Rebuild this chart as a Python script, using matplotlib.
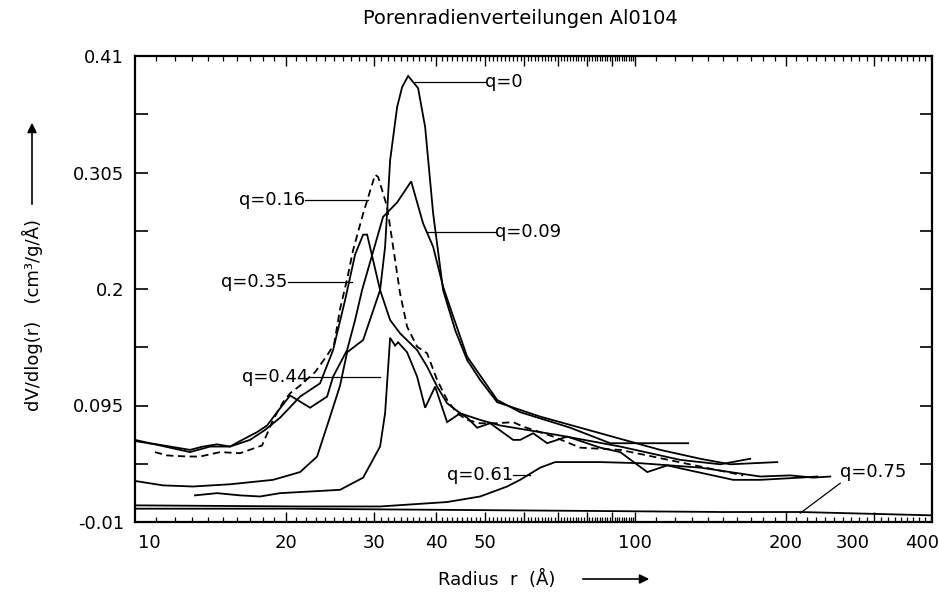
import numpy as np
import matplotlib
matplotlib.use('Agg')
import matplotlib.pyplot as plt
import matplotlib.transforms as mtransforms
from matplotlib.ticker import FixedLocator, NullFormatter, FixedFormatter

plt.rcParams['font.family'] = ['DejaVu Sans']

# pore radius r (Angstrom) and dV/dlog(r) for each q
r_q0 = [10.0, 11.38, 13.06, 15.49, 18.88, 21.38, 23.12, 24.55, 25.70, 26.55, 28.58, 30.90, 31.62,
        32.36, 33.42, 34.20, 35.16, 36.81, 38.02, 39.45, 41.30, 43.65, 46.13, 48.98, 52.97, 64.57,
        85.11, 112.2, 134.9, 154.9, 192.3]
v_q0 = [0.027, 0.023, 0.022, 0.024, 0.028, 0.035, 0.049, 0.085, 0.113, 0.143, 0.154, 0.199, 0.238,
        0.316, 0.364, 0.382, 0.392, 0.381, 0.346, 0.268, 0.199, 0.163, 0.136, 0.118, 0.098, 0.085,
        0.070, 0.055, 0.047, 0.042, 0.044]

r_q009 = [10.0, 10.72, 11.75, 12.88, 13.68, 14.59, 15.49, 16.22, 17.54, 18.37, 19.23, 20.42, 22.39,
          24.21, 24.89, 26.55, 27.54, 28.44, 31.33, 33.42, 35.65, 37.67, 39.45, 41.30, 43.05, 46.13,
          52.97, 58.88, 74.13, 89.13, 127.6]
v_q009 = [0.064, 0.061, 0.058, 0.055, 0.058, 0.060, 0.058, 0.063, 0.071, 0.077, 0.089, 0.104, 0.093,
          0.103, 0.121, 0.145, 0.172, 0.199, 0.265, 0.278, 0.297, 0.259, 0.238, 0.202, 0.178, 0.139,
          0.100, 0.089, 0.075, 0.061, 0.061]

r_q016 = [10.96, 11.59, 12.76, 13.49, 14.79, 16.22, 17.95, 18.88, 19.77, 20.42, 21.38, 22.9, 24.2,
          25.0, 25.7, 26.55, 27.29, 28.58, 30.20, 30.62, 31.92, 32.81, 33.88, 34.99, 36.64, 38.37,
          40.18, 42.07, 44.06, 46.13, 48.98, 52.97, 57.02, 59.70, 68.55, 77.62, 93.33, 105.7, 134.9,
          164.4]
v_q016 = [0.053, 0.050, 0.049, 0.049, 0.053, 0.052, 0.059, 0.082, 0.098, 0.106, 0.113, 0.125, 0.140,
          0.150, 0.182, 0.209, 0.235, 0.268, 0.303, 0.301, 0.274, 0.238, 0.196, 0.166, 0.148, 0.142,
          0.118, 0.100, 0.088, 0.082, 0.079, 0.079, 0.080, 0.076, 0.067, 0.057, 0.055, 0.050, 0.040,
          0.032]

r_q035 = [10.0, 10.96, 12.02, 12.88, 14.13, 15.49, 16.98, 18.20, 19.50, 21.38, 23.44, 24.89, 26.30,
          27.54, 28.58, 29.11, 30.90, 32.36, 33.88, 36.64, 38.37, 40.18, 42.07, 44.67, 48.98, 53.70,
          70.79, 93.33, 123.0, 147.9, 169.8]
v_q035 = [0.063, 0.060, 0.056, 0.053, 0.058, 0.058, 0.064, 0.073, 0.084, 0.103, 0.115, 0.145, 0.190,
          0.231, 0.249, 0.249, 0.199, 0.172, 0.160, 0.145, 0.130, 0.112, 0.097, 0.088, 0.082, 0.077,
          0.068, 0.058, 0.046, 0.042, 0.047]

r_q044 = [13.18, 14.59, 16.22, 17.78, 19.50, 25.70, 28.58, 30.90, 31.62, 32.36, 33.11, 33.57, 34.99,
          36.64, 38.02, 39.81, 42.07, 44.67, 46.13, 48.31, 51.29, 57.02, 58.88, 62.52, 66.68, 73.11,
          85.11, 93.33, 105.7, 115.9, 127.1, 157.0, 177.8, 213.8, 231.2]
v_q044 = [0.014, 0.016, 0.014, 0.013, 0.016, 0.019, 0.030, 0.058, 0.088, 0.156, 0.149, 0.152, 0.143,
          0.121, 0.093, 0.112, 0.080, 0.088, 0.084, 0.075, 0.079, 0.064, 0.064, 0.070, 0.061, 0.067,
          0.057, 0.053, 0.035, 0.041, 0.037, 0.028, 0.028, 0.030, 0.031]

r_q061 = [10.0, 21.38, 30.90, 42.07, 48.98, 55.46, 58.88, 64.57, 69.18, 85.11, 102.3, 134.9, 177.8,
          204.2, 227.0, 245.5]
v_q061 = [0.005, 0.004, 0.004, 0.008, 0.013, 0.022, 0.028, 0.039, 0.044, 0.044, 0.043, 0.039, 0.031,
          0.032, 0.030, 0.031]

r_q075 = [10.0, 20.0, 40.0, 80.0, 150.0, 214.0, 392.0]
v_q075 = [0.002, 0.002, 0.001, 0.0, -0.001, -0.001, -0.004]

# curve labels: text, text anchor (r, v), leader start, leader end, alignment
labels = [
    ('q=0', (50.0, 0.387), (36.3, 0.387), (50.0, 0.387), 'left'),
    ('q=0.09', (52.5, 0.251), (38.4, 0.251), (52.5, 0.251), 'left'),
    ('q=0.16', (21.9, 0.280), (21.9, 0.280), (29.2, 0.280), 'right'),
    ('q=0.35', (20.2, 0.206), (20.2, 0.206), (27.2, 0.206), 'right'),
    ('q=0.44', (22.2, 0.121), (22.2, 0.121), (30.9, 0.121), 'right'),
    ('q=0.61', (57.0, 0.032), (57.0, 0.032), (61.7, 0.032), 'right'),
    ('q=0.75', (257.0, 0.035), (257.0, 0.025), (213.8, -0.002), 'left'),
]

x_label_pos = [10.7, 20, 30, 40, 50, 100, 200, 272, 375]
x_label_txt = ['10', '20', '30', '40', '50', '100', '200', '300', '400']
y_ticks = [-0.01, 0.095, 0.2, 0.305, 0.41]
y_tick_txt = ['-0.01', '0.095', '0.2', '0.305', '0.41']

fig = plt.figure(figsize=(9.39, 5.92), dpi=100)
ax = fig.add_axes([135 / 939, 1 - 522 / 592, 797 / 939, 466 / 592])

lw = 1.3
for r, v in [(r_q0, v_q0), (r_q009, v_q009), (r_q035, v_q035), (r_q044, v_q044),
             (r_q061, v_q061), (r_q075, v_q075)]:
    ax.plot(r, v, color='k', lw=lw, solid_joinstyle='miter')
ax.plot(r_q016, v_q016, color='k', lw=lw, linestyle=(0, (4, 2.5)))

for txt, (tx, ty), p0, p1, ha in labels:
    ax.plot([p0[0], p1[0]], [p0[1], p1[1]], color='k', lw=0.9)
    ax.text(tx, ty, txt, ha=ha, va='center', fontsize=13)

ax.set_xscale('log')
ax.set_xlim(10, 392)
ax.set_ylim(-0.01, 0.41)

major_x = list(range(20, 101, 10)) + [200, 300]
minor_x = [v for v in range(11, 100) if v % 10] + [v for v in range(110, 391, 10) if v % 100]
ax.xaxis.set_major_locator(FixedLocator(major_x))
ax.xaxis.set_minor_locator(FixedLocator(minor_x))
ax.xaxis.set_major_formatter(NullFormatter())
ax.xaxis.set_minor_formatter(NullFormatter())
ax.tick_params(axis='x', which='major', direction='in', length=7.5, width=1.0, top=True, bottom=True)
ax.tick_params(axis='x', which='minor', direction='in', length=3.8, width=0.9, top=True, bottom=True)

ax.yaxis.set_major_locator(FixedLocator(y_ticks))
ax.yaxis.set_major_formatter(FixedFormatter(y_tick_txt))
ax.yaxis.set_minor_locator(FixedLocator([0.0425, 0.1475, 0.2525, 0.3575]))
ax.tick_params(axis='y', which='both', direction='in', length=9, width=1.2, left=True, right=True,
               labelsize=13, pad=8)

for sp in ax.spines.values():
    sp.set_linewidth(1.6)

trans = mtransforms.blended_transform_factory(ax.transData, ax.transAxes)
for pos, txt in zip(x_label_pos, x_label_txt):
    ax.text(pos, -0.045, txt, transform=trans, ha='center', va='center', fontsize=13)

fig.text(520 / 939, 1 - 18 / 592, 'Porenradienverteilungen Al0104', ha='center', va='center', fontsize=14)
fig.text(497 / 939, 1 - 579 / 592, 'Radius  r  (Å)', ha='center', va='center', fontsize=13)
fig.text(32 / 939, 1 - 315 / 592, 'dV/dlog(r)   (cm³/g/Å)', rotation=90, ha='center', va='center', fontsize=13)

arrow = dict(arrowstyle='-|>', color='k', lw=1.2, mutation_scale=14)
fig.add_artist(matplotlib.patches.FancyArrowPatch((580 / 939, 1 - 579 / 592), (652 / 939, 1 - 579 / 592),
                                                  transform=fig.transFigure, **arrow))
fig.add_artist(matplotlib.patches.FancyArrowPatch((32 / 939, 1 - 207 / 592), (32 / 939, 1 - 120 / 592),
                                                  transform=fig.transFigure, **arrow))

fig.savefig('out.png', dpi=100, facecolor='white')
